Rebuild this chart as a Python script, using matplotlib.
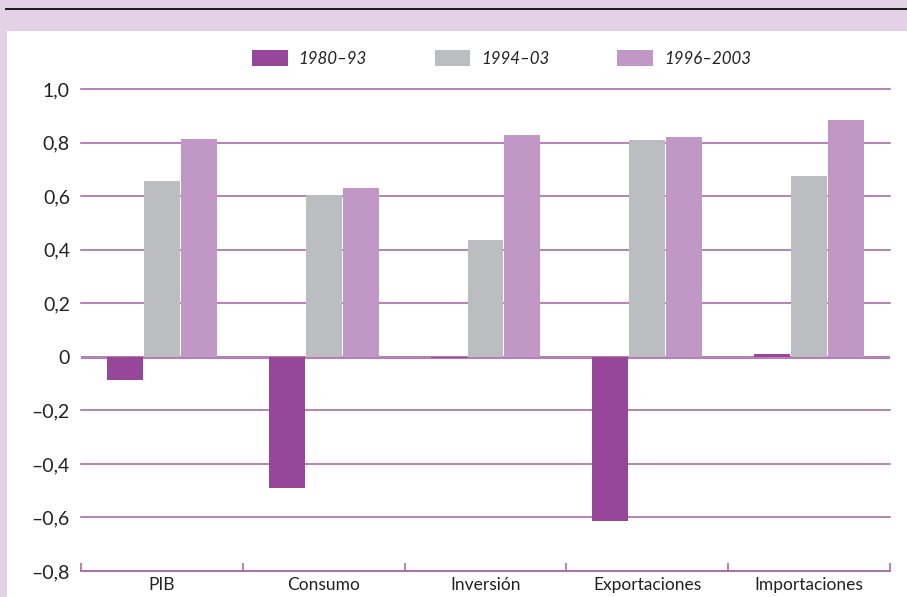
import numpy as np
import matplotlib.pyplot as plt
from matplotlib.patches import Rectangle, Patch

plt.rcParams['font.family'] = ['Lato', 'DejaVu Sans']

categorias = ['PIB', 'Consumo', 'Inversión', 'Exportaciones', 'Importaciones']
series = ['1980–93', '1994–03', '1996–2003']
v_1980_93 = [-0.085, -0.49, -0.003, -0.612, 0.012]
v_1994_03 = [0.657, 0.604, 0.437, 0.81, 0.675]
v_1996_2003 = [0.813, 0.631, 0.828, 0.821, 0.884]
colores = ['#96479A', '#BCBDC0', '#C197C6']
yticks = [-0.8, -0.6, -0.4, -0.2, 0, 0.2, 0.4, 0.6, 0.8, 1.0]

fig = plt.figure(figsize=(9.07, 5.97), dpi=100)
fig.patch.set_facecolor('#E3D1E6')

# white panel and top rule
fig.patches.append(Rectangle((7 / 907, 0), 1, (597 - 31) / 597, transform=fig.transFigure,
                             facecolor='white', edgecolor='none', zorder=-5))
fig.add_artist(plt.Line2D([6 / 907, 1], [1 - 8.5 / 597] * 2, transform=fig.transFigure,
                          color='#1a1a1a', lw=1.4))

ax = fig.add_axes([81 / 907, 26 / 597, (890 - 81) / 907, (571 - 89) / 597])
ax.set_zorder(2)
ax.set_facecolor('none')

x = np.arange(len(categorias))
ancho = 0.222
paso = 0.228
for i, vals in enumerate([v_1980_93, v_1994_03, v_1996_2003]):
    ax.bar(x + (i - 1) * paso, vals, width=ancho, color=colores[i], zorder=3)

ax.set_xlim(-0.5, len(categorias) - 0.5)
ax.set_ylim(-0.8, 1.0)

# horizontal grid
for y in yticks[1:]:
    if y == 0:
        ax.axhline(0, color='#B67FBA', lw=2.2, zorder=2)
    else:
        ax.axhline(y, color='#A261A6', lw=1.1, zorder=2, clip_on=False)

ax.set_yticks(yticks)
ax.set_yticklabels(['0' if t == 0 else f'{t:.1f}'.replace('.', ',').replace('-', '–') for t in yticks],
                   fontsize=14, color='#222222')
ax.tick_params(axis='y', length=0, pad=8)

# category boundaries as ticks on the bottom axis
ax.set_xticks(np.arange(-0.5, len(categorias), 1.0))
ax.set_xticklabels([])
ax.set_xticks(x, minor=True)
ax.set_xticklabels(categorias, minor=True, fontsize=12.5, color='#222222')
ax.tick_params(axis='x', which='major', direction='in', length=6, color='#A261A6', width=1.1)
ax.tick_params(axis='x', which='minor', length=0, pad=4.5)

for s in ['top', 'right', 'left']:
    ax.spines[s].set_visible(False)
ax.spines['bottom'].set_color('#A261A6')
ax.spines['bottom'].set_linewidth(1.3)

handles = [Patch(facecolor=c, edgecolor='none') for c in colores]
leg = fig.legend(handles, series, loc='center', bbox_to_anchor=(0.553, 1 - 58.5 / 597), ncol=3,
                 frameon=False, handlelength=2.1, handleheight=1.05, columnspacing=4.0,
                 handletextpad=0.65, prop={'style': 'italic', 'size': 12.2})
for t in leg.get_texts():
    t.set_color('#222222')

fig.savefig('out.png', dpi=100, facecolor=fig.get_facecolor())
